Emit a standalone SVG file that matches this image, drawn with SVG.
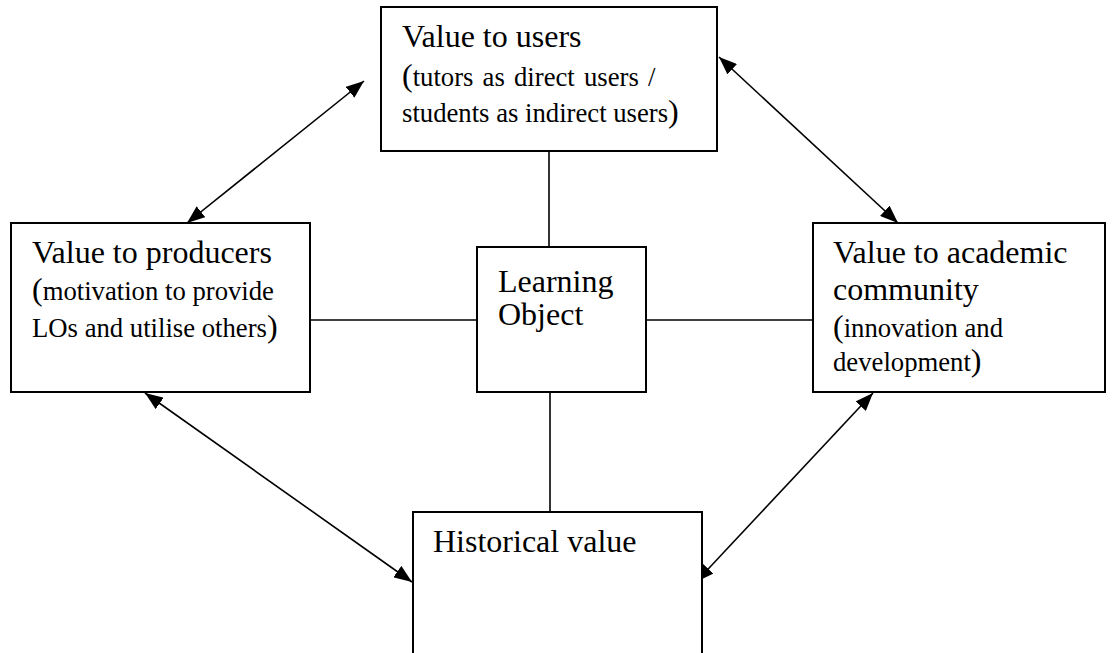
<svg xmlns="http://www.w3.org/2000/svg" width="1116" height="653" viewBox="0 0 1116 653">
<style>
.box{fill:#fff;stroke:#000;stroke-width:2}
.ln{stroke:#000;stroke-width:1.6;fill:none}
.t{font-family:"Liberation Serif","Times New Roman",serif;font-size:32px;fill:#000}
.s{font-size:26.7px}
</style>
<defs>
<marker id="ah" viewBox="0 0 18 14" refX="18" refY="7" markerWidth="18" markerHeight="14" markerUnits="userSpaceOnUse" orient="auto-start-reverse">
<path d="M0,0 L18,7 L0,14 Z" fill="#000"/>
</marker>
</defs>
<rect width="1116" height="653" fill="#fff"/>
<g id="connectors">
<line class="ln" x1="549" y1="151" x2="549" y2="248"/>
<line class="ln" x1="550" y1="392" x2="550" y2="512"/>
<line class="ln" x1="310" y1="320" x2="477" y2="320"/>
<line class="ln" x1="646" y1="320" x2="813" y2="320"/>
<line class="ln" x1="364" y1="81" x2="187" y2="223" marker-start="url(#ah)" marker-end="url(#ah)"/>
<line class="ln" x1="719" y1="57" x2="898" y2="223" marker-start="url(#ah)" marker-end="url(#ah)"/>
<line class="ln" x1="145" y1="393" x2="412" y2="582" marker-start="url(#ah)" marker-end="url(#ah)"/>
<line class="ln" x1="873" y1="393" x2="696" y2="582" marker-start="url(#ah)" marker-end="url(#ah)"/>
</g>
<g id="users">
<rect class="box" x="381" y="7" width="336" height="144"/>
<text class="t" x="402" y="47">Value to users</text>
<text class="t" x="402" y="86">(<tspan class="s" style="word-spacing:2.5px">tutors as direct users /</tspan></text>
<text class="t s" x="402" y="122">students as indirect users<tspan style="font-size:32px">)</tspan></text>
</g>
<g id="producers">
<rect class="box" x="11" y="223" width="299" height="169"/>
<text class="t" x="32" y="263">Value to producers</text>
<text class="t" x="32" y="300">(<tspan class="s">motivation to provide</tspan></text>
<text class="t s" x="32" y="337">LOs and utilise others<tspan style="font-size:32px">)</tspan></text>
</g>
<g id="learning-object">
<rect class="box" x="477" y="247" width="169" height="145"/>
<text class="t" x="498" y="292">Learning</text>
<text class="t" x="498" y="325">Object</text>
</g>
<g id="academic">
<rect class="box" x="813" y="223" width="292" height="169"/>
<text class="t" x="833" y="263">Value to academic</text>
<text class="t" x="833" y="300">community</text>
<text class="t" x="833" y="337">(<tspan class="s">innovation and</tspan></text>
<text class="t s" x="833" y="371">development<tspan style="font-size:32px">)</tspan></text>
</g>
<g id="historical">
<path class="box" d="M413,660 L413,512 L702,512 L702,660"/>
<text class="t" x="433" y="552">Historical value</text>
</g>
</svg>
